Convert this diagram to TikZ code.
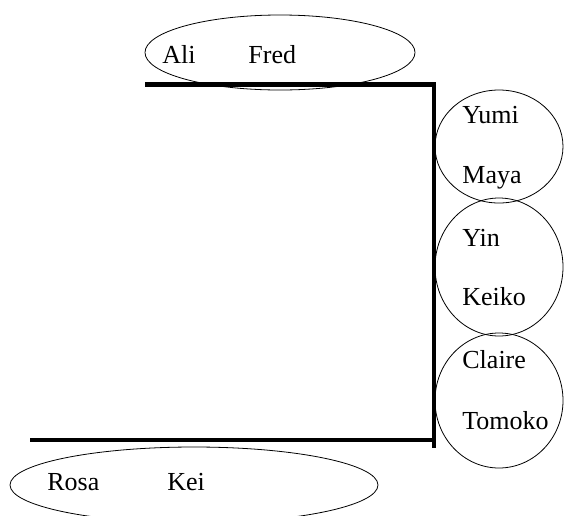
\documentclass[tikz,border=0pt]{standalone}
\usepackage{fontspec}
\setmainfont{Liberation Serif}
\begin{document}
\begin{tikzpicture}[x=1pt, y=-1pt, draw=black, line width=.8pt,
	gast/.style={anchor=base west, inner sep=0pt, font=\fontsize{26}{30}\selectfont},
	tisch/.style={line width=4.8pt, line join=miter}]
	\useasboundingbox (0,0) rectangle (565,515);
	%Tisch
	\draw[tisch] (145,84.5) -- (434,84.5) -- (434,448);
	\draw[tisch] (30,440)   -- (434,440);
	%Gruppen
	\draw (280,52.5) ellipse (135 and 37.5);
	\draw (499,146.5) ellipse (64 and 56.5);
	\draw (499,267)   ellipse (64 and 69);
	\draw (499,400.5) ellipse (64 and 67.5);
	\draw (194,485)   ellipse (184 and 38);
	%Namen
	\node[gast] (ali)    at (162,63)  {Ali};
	\node[gast] (fred)   at (248,63)  {Fred};
	\node[gast] (yumi)   at (462,123) {Yumi};
	\node[gast] (maya)   at (462,183) {Maya};
	\node[gast] (yin)    at (462,246) {Yin};
	\node[gast] (keiko)  at (462,305) {Keiko};
	\node[gast] (claire) at (462,368) {Claire};
	\node[gast] (tomoko) at (462,429) {Tomoko};
	\node[gast] (rosa)   at (47,490)  {Rosa};
	\node[gast] (kei)    at (167,490) {Kei};
\end{tikzpicture}
\end{document}
